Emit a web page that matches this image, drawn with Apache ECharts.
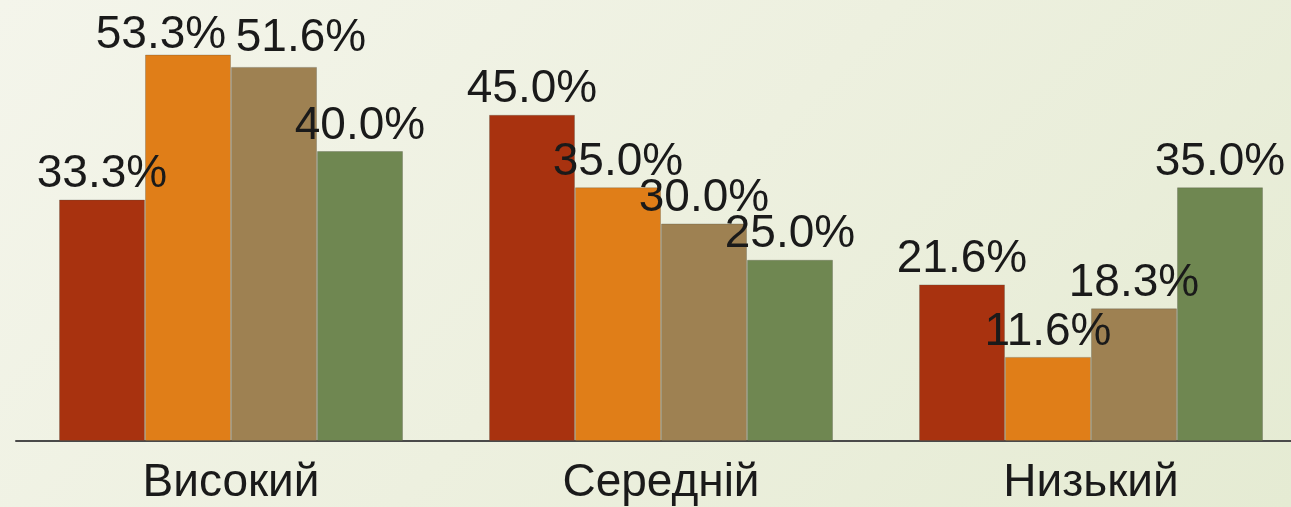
<!DOCTYPE html>
<html>
<head>
<meta charset="utf-8">
<script src="https://cdn.jsdelivr.net/npm/echarts@6/dist/echarts.min.js"></script>
<style>
    html, body { margin: 0; padding: 0; overflow: hidden; width: 1291px; height: 507px; }
    body { background: linear-gradient(135deg, #f4f5eb 0%, #edf0df 50%, #e5ebd3 100%); }
    #chart {
        /* the axis runs past the right edge in the picture */
        width: 1306px;
        height: 507px;
    }
</style>
</head>
<body>
<div id="chart"></div>
<script>
    const categories = ['Високий', 'Середній', 'Низький'];
    const seriesA = [33.3, 45.0, 21.6];
    const seriesB = [53.3, 35.0, 11.6];
    const seriesC = [51.6, 30.0, 18.3];
    const seriesD = [40.0, 25.0, 35.0];

    const colors = ['#a8320f', '#e07e18', '#9e8152', '#6f8751'];
    // labels nudged in the picture to keep them apart
    const labelOffsets = {
        '1-0': [-27, 6],
        '2-0': [27, -4]
    };

    const chart = echarts.init(document.getElementById('chart'));

    const makeSeries = (values, idx) => ({
        type: 'bar',
        barGap: 0,
        barCategoryGap: '20%',
        itemStyle: {
            color: colors[idx],
            borderColor: 'rgba(80,80,70,0.3)',
            borderWidth: 1
        },
        label: {
            show: true,
            position: 'top',
            distance: 2,
            color: '#1a1a1a',
            fontSize: 46,
            fontFamily: 'Liberation Sans, Arial, sans-serif',
            formatter: p => p.value.toFixed(1) + '%'
        },
        data: values.map((v, i) => {
            const off = labelOffsets[idx + '-' + i];
            return off ? { value: v, label: { offset: off } } : v;
        })
    });

    chart.setOption({
        animation: false,
        grid: {
            left: 16,
            top: 6,
            right: 0,
            bottom: 66
        },
        xAxis: {
            type: 'category',
            data: categories,
            axisTick: { show: false },
            axisLine: {
                lineStyle: { color: '#4a4a4a', width: 2 }
            },
            axisLabel: {
                margin: 19,
                color: '#1a1a1a',
                fontSize: 46,
                fontFamily: 'Liberation Sans, Arial, sans-serif'
            }
        },
        yAxis: {
            type: 'value',
            min: 0,
            max: 60,
            show: false,
            splitLine: { show: false }
        },
        series: [
            makeSeries(seriesA, 0),
            makeSeries(seriesB, 1),
            makeSeries(seriesC, 2),
            makeSeries(seriesD, 3)
        ]
    });
</script>
</body>
</html>
